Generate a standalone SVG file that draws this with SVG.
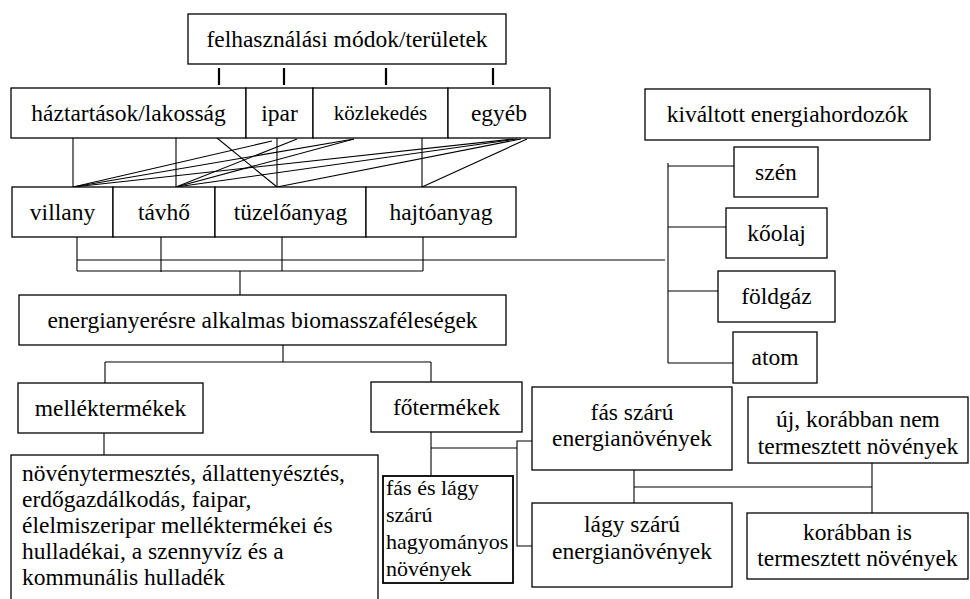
<svg xmlns="http://www.w3.org/2000/svg" width="970" height="599" viewBox="0 0 970 599">
<style>
rect{fill:#fff;stroke:#000;stroke-width:1.3}
.c line,.c polyline{stroke:#000;stroke-width:1.1;fill:none}
.c .tk{stroke-width:2.2}
text{font-family:"Liberation Serif",Tinos,"Times New Roman",Times,"Noto Serif","DejaVu Serif",FreeSerif,serif;font-size:23.5px;fill:#000;text-anchor:middle}
.l{text-anchor:start}
.s{font-size:22px}
</style>
<rect x="0" y="0" width="970" height="599" style="stroke:none"/>
<g class="c" id="connectors">
<line class="tk" x1="219" y1="68" x2="219" y2="85"/>
<line class="tk" x1="284" y1="68" x2="284" y2="85"/>
<line class="tk" x1="386" y1="68" x2="386" y2="85"/>
<line class="tk" x1="493" y1="68" x2="493" y2="85"/>
<line x1="73" y1="138" x2="73" y2="187"/>
<line x1="176" y1="138" x2="176" y2="187"/>
<line x1="277" y1="138" x2="277" y2="187"/>
<line x1="422" y1="138" x2="422" y2="187"/>
<line x1="217" y1="138" x2="277" y2="187"/>
<line x1="272" y1="141" x2="73" y2="187"/>
<line x1="297" y1="139" x2="176" y2="187"/>
<line x1="354" y1="139" x2="73" y2="187"/>
<line x1="354" y1="139" x2="176" y2="187"/>
<line x1="513" y1="139" x2="73" y2="187"/>
<line x1="517" y1="139" x2="176" y2="187"/>
<line x1="521" y1="139" x2="277" y2="187"/>
<line x1="527" y1="139" x2="422" y2="187"/>
<line x1="77" y1="237" x2="77" y2="271"/>
<line x1="161" y1="237" x2="161" y2="272"/>
<line x1="282" y1="237" x2="282" y2="271"/>
<line x1="423" y1="237" x2="423" y2="271"/>
<line x1="77" y1="260" x2="665" y2="260"/>
<line x1="77" y1="271" x2="423" y2="271"/>
<line x1="240" y1="271" x2="240" y2="295"/>
<line x1="668" y1="163" x2="668" y2="363"/>
<line x1="668" y1="166" x2="734" y2="166"/>
<line x1="668" y1="227" x2="726" y2="227"/>
<line x1="668" y1="291" x2="718" y2="291"/>
<line x1="668" y1="363" x2="733" y2="363"/>
<line x1="283" y1="345" x2="283" y2="362"/>
<line x1="105" y1="362" x2="431" y2="362"/>
<line x1="105" y1="362" x2="105" y2="383"/>
<line x1="431" y1="362" x2="431" y2="382"/>
<line x1="104" y1="433" x2="104" y2="455"/>
<line x1="431" y1="432" x2="431" y2="476"/>
<line x1="431" y1="448" x2="517" y2="448"/>
<polyline points="532,441 517,441 517,546 532,546"/>
<line x1="634" y1="470" x2="634" y2="503"/>
<line x1="634" y1="487" x2="872" y2="487"/>
<line x1="872" y1="463" x2="872" y2="513"/>
</g>
<g id="felhasznalasi"><rect x="188" y="14" width="318" height="50"/><text x="347" y="47">felhasználási módok/területek</text></g>
<g id="haztartasok"><rect x="11" y="88" width="235" height="50"/><text x="128.5" y="121">háztartások/lakosság</text></g>
<g id="ipar"><rect x="246" y="88" width="67" height="50"/><text x="279.5" y="121">ipar</text></g>
<g id="kozlekedes"><rect x="313" y="88" width="135" height="50"/><text x="380.5" y="120" style="font-size:21px">közlekedés</text></g>
<g id="egyeb"><rect x="448" y="88" width="102" height="50"/><text x="499" y="121">egyéb</text></g>
<g id="villany"><rect x="12" y="187" width="101" height="50"/><text x="62.5" y="220">villany</text></g>
<g id="tavho"><rect x="113" y="187" width="102" height="50"/><text x="164" y="220">távhő</text></g>
<g id="tuzeloanyag"><rect x="215" y="187" width="151" height="50"/><text x="290.5" y="220">tüzelőanyag</text></g>
<g id="hajtoanyag"><rect x="366" y="187" width="150" height="50"/><text x="441" y="220">hajtóanyag</text></g>
<g id="kivaltott"><rect x="645" y="89" width="285" height="51"/><text x="787.5" y="122">kiváltott energiahordozók</text></g>
<g id="szen"><rect x="734" y="147" width="84" height="50"/><text x="776" y="180">szén</text></g>
<g id="koolaj"><rect x="726" y="208" width="101" height="50"/><text x="776.5" y="241">kőolaj</text></g>
<g id="foldgaz"><rect x="718" y="271" width="117" height="51"/><text x="776.5" y="304">földgáz</text></g>
<g id="atom"><rect x="733" y="332" width="84" height="51"/><text x="775" y="365">atom</text></g>
<g id="energianyeresre"><rect x="19" y="295" width="487" height="50"/><text x="262.5" y="328">energianyerésre alkalmas biomasszaféleségek</text></g>
<g id="mellektermekek"><rect x="18" y="383" width="185" height="50"/><text x="110.5" y="416">melléktermékek</text></g>
<g id="fotermekek"><rect x="371" y="382" width="151" height="50"/><text x="446.5" y="415">főtermékek</text></g>
<g id="mellektermekek-lista"><rect x="11" y="455" width="367" height="160"/>
<text class="l" x="22" y="481">növénytermesztés, állattenyésztés,</text>
<text class="l" x="22" y="507">erdőgazdálkodás, faipar,</text>
<text class="l" x="22" y="533">élelmiszeripar melléktermékei és</text>
<text class="l" x="22" y="559">hulladékai, a szennyvíz és a</text>
<text class="l" x="22" y="585">kommunális hulladék</text></g>
<g id="hagyomanyos"><rect x="383" y="476" width="130" height="107" style="stroke-width:1.8"/>
<text class="l s" x="386" y="495">fás és lágy</text>
<text class="l s" x="386" y="522">szárú</text>
<text class="l s" x="386" y="549">hagyományos</text>
<text class="l s" x="386" y="576">növények</text></g>
<g id="fas-szaru"><rect x="532" y="387" width="200" height="83"/><text x="632" y="420">fás szárú</text><text x="632" y="446">energianövények</text></g>
<g id="lagy-szaru"><rect x="532" y="503" width="200" height="84"/><text x="632" y="532">lágy szárú</text><text x="632" y="559">energianövények</text></g>
<g id="uj"><rect x="748" y="397" width="220" height="66"/><text x="858" y="427">új, korábban nem</text><text x="858" y="454">termesztett növények</text></g>
<g id="korabban"><rect x="747" y="513" width="221" height="66"/><text x="857.5" y="540">korábban is</text><text x="857.5" y="566">termesztett növények</text></g>
</svg>
